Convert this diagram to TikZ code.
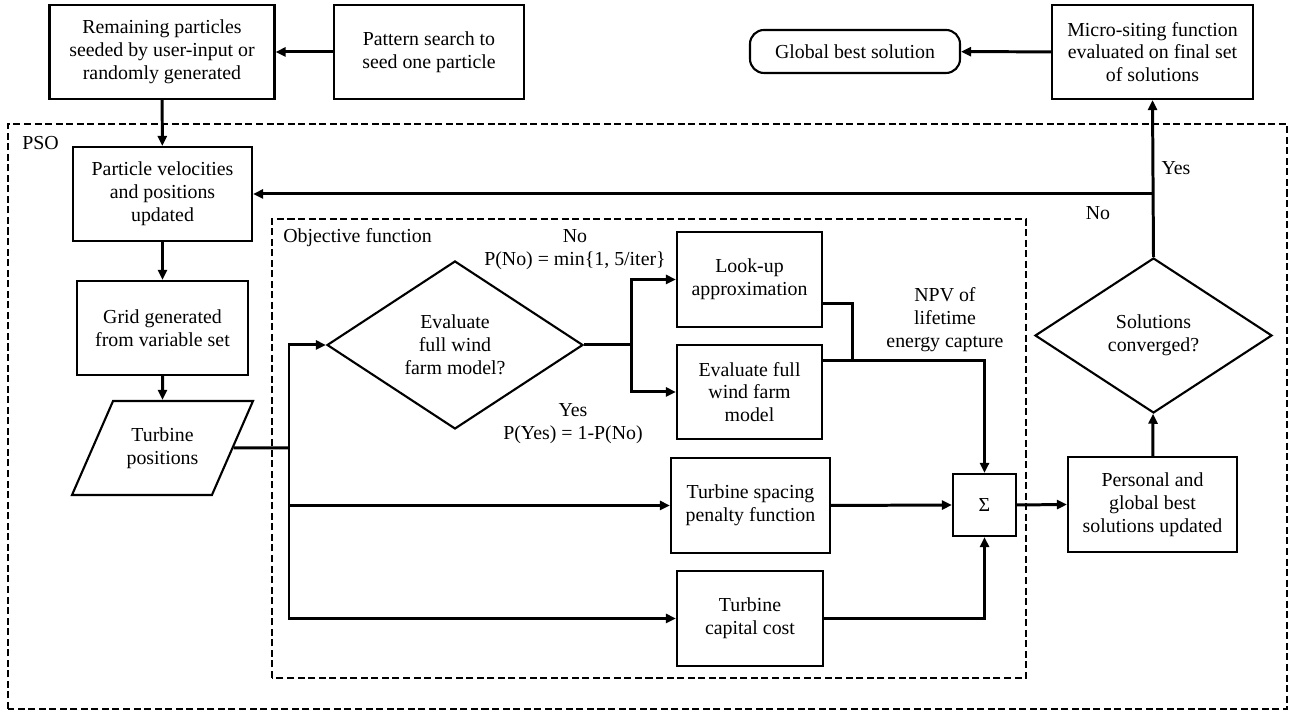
\documentclass[tikz,border=0pt]{standalone}
\usepackage{fontspec}
\setmainfont{Liberation Serif}
\usepackage{tikz}
\usetikzlibrary{arrows.meta,positioning,calc,shapes.geometric}

\begin{document}
\begin{tikzpicture}[
  font=\fontsize{11.3}{13}\selectfont,
  box/.style={draw, line width=1.2pt, minimum height=1.88cm, align=center, inner sep=2pt},
  term/.style={draw, line width=1.2pt, rounded corners=0.28cm, minimum width=4.2cm,
               minimum height=0.86cm, align=center},
  decision/.style={draw, diamond, line width=1.2pt, inner sep=0pt, align=center},
  io/.style={draw, trapezium, trapezium left angle=52, trapezium right angle=128,
             trapezium stretches body, line width=1.2pt, minimum width=3.62cm,
             minimum height=1.88cm, align=center},
  group/.style={draw, line width=0.9pt, dash pattern=on 4pt off 2pt},
  arr/.style={-{Triangle[length=2mm, width=1.8mm]}, line width=1.7pt},
  line/.style={line width=1.7pt}
]
\useasboundingbox (0,0) rectangle (25.8,14.24);

% dashed groups
\draw[group] (0.16,0.06) rectangle (25.74,11.76);
\node[anchor=west, inner sep=0pt] (psolbl) at (0.44,11.38) {PSO};
\draw[group] (5.44,0.68) rectangle (20.52,9.86);
\node[anchor=west, inner sep=0pt] (objlbl) at (5.66,9.48) {Objective function};

% top row
\node[box, minimum width=4.5cm] (remain) at (3.24,13.2)
  {Remaining particles\\seeded by user-input or\\randomly generated};
\node[box, minimum width=3.8cm] (pattern) at (8.58,13.2)
  {Pattern search to\\seed one particle};
\node[term] (gbest) at (17.1,13.21) {Global best solution};
\node[box, minimum width=4.02cm] (micro) at (23.05,13.2)
  {Micro-siting function\\evaluated on final set\\of solutions};

% left column
\node[box, minimum width=3.58cm] (update) at (3.25,10.36)
  {Particle velocities\\and positions\\updated};
\node[box, minimum width=3.42cm] (grid) at (3.25,7.68)
  {Grid generated\\from variable set};
\node[io] (tpos) at (3.25,5.28) {Turbine\\positions};

% objective function
\node[decision, minimum width=5.12cm, minimum height=3.36cm] (evalq) at (9.1,7.34)
  {Evaluate\\full wind\\farm model?};
\node[box, minimum width=2.9cm, minimum height=1.9cm] (lookup) at (14.99,8.65)
  {Look-up\\approximation};
\node[box, minimum width=2.9cm] (fullmodel) at (14.99,6.4)
  {Evaluate full\\wind farm\\model};
\node[box, minimum width=3.18cm, minimum height=1.9cm] (spacing) at (15.01,4.13)
  {Turbine spacing\\penalty function};
\node[box, minimum width=2.92cm, minimum height=1.9cm] (capital) at (15.0,1.87)
  {Turbine\\capital cost};
\node[box, minimum width=1.26cm, minimum height=1.24cm] (sum) at (19.69,4.14) {Σ};

% right column
\node[box, minimum width=3.38cm, minimum height=1.9cm] (best) at (23.05,4.15)
  {Personal and\\global best\\solutions updated};
\node[decision, minimum width=4.74cm, minimum height=3.1cm] (conv) at (23.07,7.53)
  {Solutions\\converged?};

% labels
\node[align=center] (nolbl) at (11.5,9.25) {No\\P(No) = min\{1, 5/iter\}};
\node[align=center] (yeslbl) at (11.46,5.77) {Yes\\P(Yes) = 1-P(No)};
\node[align=center] (npvlbl) at (18.9,7.84) {NPV of\\lifetime\\energy capture};
\node (convyes) at (23.52,10.88) {Yes};
\node (convno) at (21.96,9.98) {No};

% connectors
\draw[arr] (pattern) -- (remain);
\draw[arr] (micro) -- (gbest);
\draw[arr] (remain) -- (update);
\draw[arr] (update) -- (grid);
\draw[arr] (grid) -- (tpos);

\coordinate (trunk) at (5.78,5.28);
\draw[line] (tpos.east) -- (trunk);
\draw[arr] (trunk) |- (evalq.west);
\draw[arr] (trunk) |- (spacing.west);
\draw[arr] (trunk) |- (capital.west);

\coordinate (split) at (12.62,7.34);
\draw[line] (evalq.east) -- (split);
\draw[arr] (split) |- (lookup.west);
\draw[arr] (split) |- (fullmodel.west);

\coordinate (lkout) at ($(lookup.east)!0.5!(lookup.south east)$);
\coordinate (fmout) at ($(fullmodel.east)!0.65!(fullmodel.north east)$);
\coordinate (join) at (17.04,0 |- fmout);
\draw[line] (lkout) -| (join);
\draw[arr] (fmout) -| (sum.north);
\draw[arr] (spacing.east) -- (sum.west);
\draw[arr] (capital.east) -| (sum.south);

\draw[arr] (sum.east) -- (best.west);
\draw[arr] (best) -- (conv);
\draw[arr] (conv.north) -- (micro.south);
\coordinate (noturn) at (conv.north |- update.east);
\draw[arr] (noturn) -- (update.east);
\end{tikzpicture}
\end{document}
